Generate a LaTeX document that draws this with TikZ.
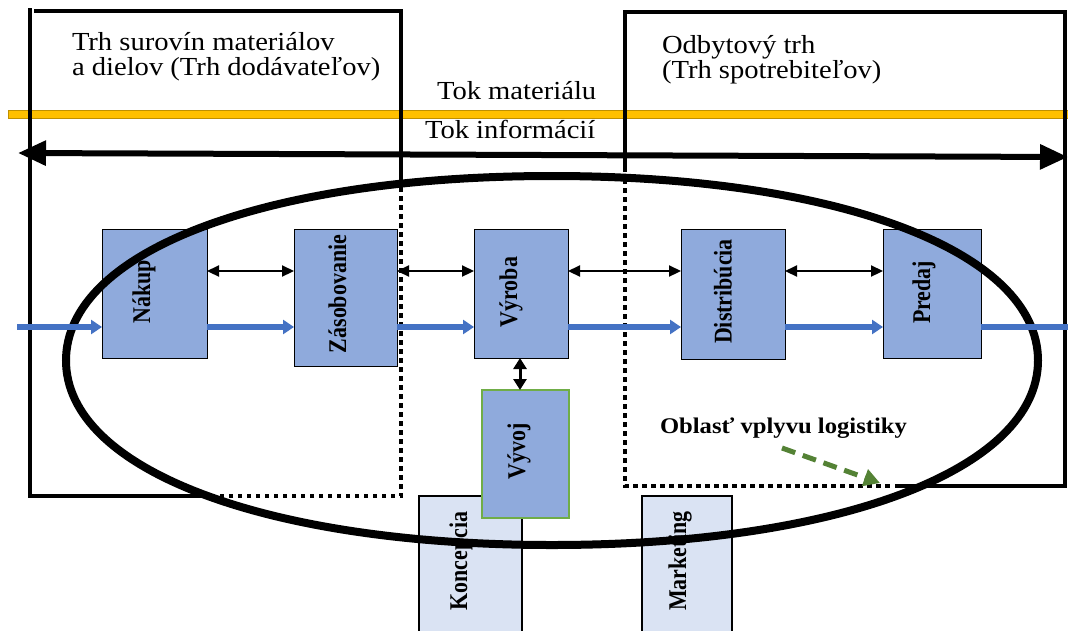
\documentclass[tikz,border=0pt]{standalone}
\usepackage{fontspec}
\setmainfont{Liberation Serif}[FakeStretch=1.1]
\newfontfamily\boxlabelfont{Liberation Serif}[FakeStretch=0.86]
\usetikzlibrary{arrows.meta}

\definecolor{boxblue}{HTML}{8FAADC}
\definecolor{boxlight}{HTML}{DAE3F3}
\definecolor{flowblue}{HTML}{4472C4}
\definecolor{matyellow}{HTML}{FFC000}
\definecolor{matedge}{HTML}{BF9000}
\definecolor{devgreen}{HTML}{70AD47}
\definecolor{notegreen}{HTML}{548235}

\begin{document}
\begin{tikzpicture}[x=1pt,y=-1pt,
  every node/.style={inner sep=0pt, outer sep=0pt},
  title/.style={anchor=base west, font=\fontsize{26}{25}\selectfont},
  marketline/.style={line width=3.5pt},
  marketdots/.style={line width=4.5pt, dash pattern=on 4.5pt off 4.5pt},
  procbox/.style={draw=black, line width=1pt, fill=boxblue},
  sidebox/.style={draw=black, line width=1.3pt, fill=boxlight},
  devbox/.style={draw=devgreen, line width=1.3pt, fill=boxblue},
  boxlabel/.style={rotate=90, font=\boxlabelfont\bfseries\fontsize{25.5}{25}\selectfont},
  infoflow/.style={line width=6pt,
    {Triangle[length=28pt,width=24pt]}-{Triangle[length=28pt,width=24pt]}},
  matflow/.style={line width=6pt, draw=flowblue, -{Triangle[length=11pt,width=14pt]}},
  link/.style={line width=2.2pt,
    {Triangle[length=12pt,width=11pt]}-{Triangle[length=12pt,width=11pt]}},
  vlink/.style={line width=3pt,
    {Triangle[length=11pt,width=13pt]}-{Triangle[length=11pt,width=13pt]}},
  zone/.style={line width=8pt},
  note/.style={line width=5pt, draw=notegreen, dash pattern=on 14pt off 8pt,
    -{Triangle[length=16pt,width=17pt]}}
]
\clip (0,0) rectangle (1068,630);
\fill[white] (0,0) rectangle (1068,630);

% material flow band
\draw[fill=matyellow, draw=matedge, line width=0.8pt] (8,110) rectangle (1075,118);

% supplier market frame
\draw[marketline] (30,8) -- (30,496) -- (207,496);
\draw[marketline] (34,11) -- (401,11) -- (401,180);
\draw[marketdots] (401,187) -- (401,496) -- (209,496);

% sales market frame
\draw[marketline] (625,172) -- (625,12) -- (1065,12) -- (1065,486) -- (895,486);
\draw[marketdots] (625,179) -- (625,486) -- (893,486);

% market titles and flow labels
\node[title] (supA) at (72,50) {Trh surovín materiálov};
\node[title] (supB) at (72,75) {a dielov (Trh dodávateľov)};
\node[title] (salA) at (662,53) {Odbytový trh};
\node[title] (salB) at (662,78) {(Trh spotrebiteľov)};
\node[title] (matlbl) at (437,99) {Tok materiálu};
\node[title] (infolbl) at (425,138) {Tok informácií};

% information flow
\coordinate (infoW) at (18,153);
\coordinate (infoE) at (1068,157);
\draw[infoflow] (infoW) -- (infoE);

% side functions
\node[sidebox, minimum width=103pt, minimum height=136pt] (koncepcia) at (470.5,564) {};
\node[sidebox, minimum width=90pt, minimum height=136pt] (marketing) at (687,564) {};

% logistics process chain
\node[procbox, minimum width=105pt, minimum height=129pt] (nakup) at (154.5,293.5) {};
\node[procbox, minimum width=103pt, minimum height=137pt] (zasob) at (345.5,297.5) {};
\node[procbox, minimum width=94pt, minimum height=129pt] (vyroba) at (521,293.5) {};
\node[procbox, minimum width=104pt, minimum height=130pt] (distrib) at (733,294) {};
\node[procbox, minimum width=98pt, minimum height=129pt] (predaj) at (932,293.5) {};
\node[devbox, minimum width=87pt, minimum height=128pt] (vyvoj) at (525.5,454) {};

\node[boxlabel] (nakupL) at ([shift={(-10.5,-1.5)}]nakup.center) {Nákup};
\node[boxlabel] (zasobL) at ([shift={(-8,-3.5)}]zasob.center) {Zásobovanie};
\node[boxlabel] (vyrobaL) at ([shift={(-10,-1.5)}]vyroba.center) {Výroba};
\node[boxlabel] (distribL) at ([shift={(-10,-2.5)}]distrib.center) {Distribúcia};
\node[boxlabel] (predajL) at ([shift={(-8,-1)}]predaj.center) {Predaj};
\node[boxlabel] (vyvojL) at ([shift={(-6.5,-2.5)}]vyvoj.center) {Vývoj};
\node[boxlabel] (koncepciaL) at ([shift={(-9.5,-3)}]koncepcia.center) {Koncepcia};
\node[boxlabel] (marketingL) at ([shift={(-7,-3)}]marketing.center) {Marketing};

% area of logistics influence
\draw[zone] (66,360.5) .. controls (66,251.5) and (265,176) .. (552,176)
  .. controls (839,176) and (1038,251.5) .. (1038,360.5)
  .. controls (1038,469.5) and (839,545) .. (552,545)
  .. controls (265,545) and (66,469.5) .. (66,360.5) -- cycle;

% information links between functions
\coordinate (linkrow) at (0,271);
\draw[link] (nakup.east |- linkrow) -- (zasob.west |- linkrow);
\draw[link] (zasob.east |- linkrow) -- (vyroba.west |- linkrow);
\draw[link] (vyroba.east |- linkrow) -- (distrib.west |- linkrow);
\draw[link] (distrib.east |- linkrow) -- (predaj.west |- linkrow);
\coordinate (devcol) at (520,0);
\draw[vlink] (devcol |- vyroba.south) -- (devcol |- vyvoj.north);

% material flow through the chain
\coordinate (flowrow) at (0,327);
\coordinate (inflow) at (17,327);
\coordinate (outflow) at (1072,327);
\draw[matflow] (inflow) -- (nakup.west |- flowrow);
\draw[matflow] (nakup.east |- flowrow) -- (zasob.west |- flowrow);
\draw[matflow] (zasob.east |- flowrow) -- (vyroba.west |- flowrow);
\draw[matflow] (vyroba.east |- flowrow) -- (distrib.west |- flowrow);
\draw[matflow] (distrib.east |- flowrow) -- (predaj.west |- flowrow);
\draw[line width=6pt, draw=flowblue] (predaj.east |- flowrow) -- (outflow);

% note
\node[anchor=base west, font=\bfseries\fontsize{22.4}{24}\selectfont] (zonelbl) at (660,433) {Oblasť vplyvu logistiky};
\coordinate (noteA) at (782,448);
\coordinate (noteB) at (880,483);
\draw[note] (noteA) -- (noteB);
\end{tikzpicture}
\end{document}
